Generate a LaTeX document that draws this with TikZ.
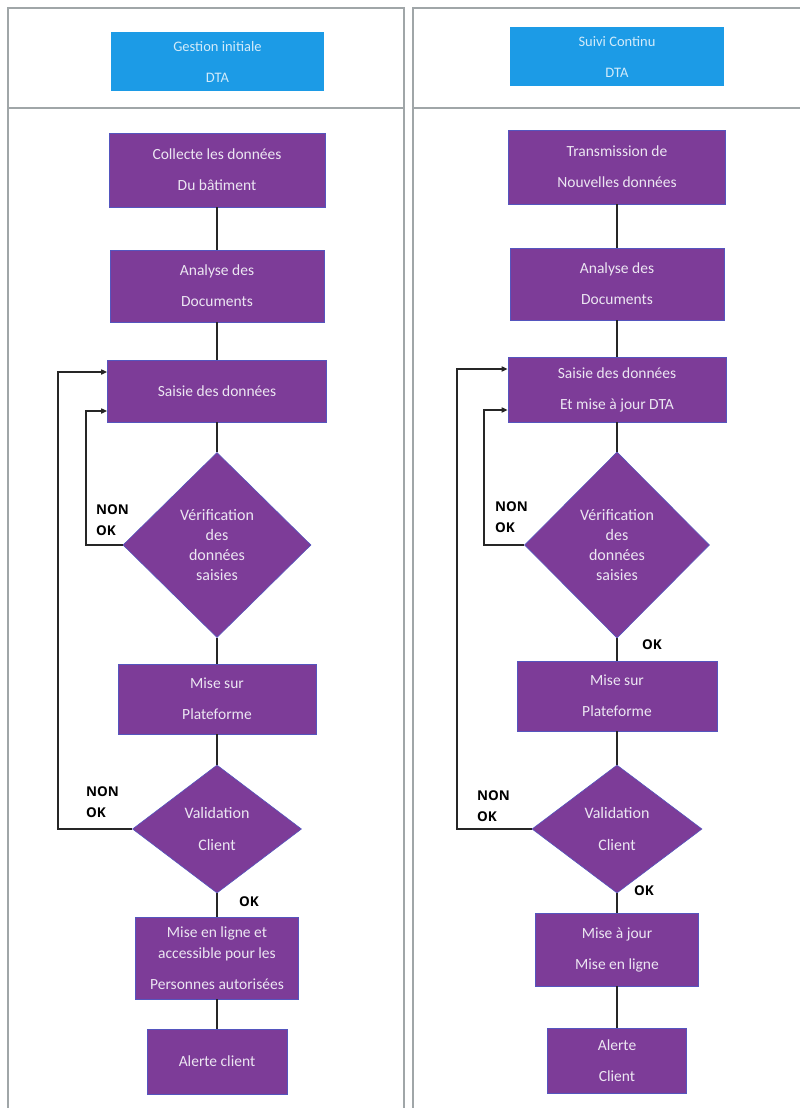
\documentclass[tikz,border=0pt]{standalone}
\usepackage{fontspec}
\setmainfont{Carlito}
\newfontfamily\okfont{Open Sans}
\usetikzlibrary{shapes.geometric,arrows.meta}
\definecolor{purp}{RGB}{125,60,152}
\definecolor{purpedge}{RGB}{85,85,190}
\definecolor{hblue}{RGB}{28,155,230}
\definecolor{boxtxt}{RGB}{236,230,242}
\definecolor{frm}{RGB}{160,166,168}
\begin{document}
\begin{tikzpicture}[x=1pt,y=-1pt,
  stepbox/.style={rectangle, fill=purp, draw=purpedge, line width=0.6pt, text=boxtxt, align=center, inner sep=0pt, font=\fontsize{15.5}{31}\selectfont},
  dec/.style={diamond, fill=purp, draw=purpedge, line width=0.6pt, text=boxtxt, align=center, inner sep=0pt, font=\fontsize{16}{20}\selectfont},
  head/.style={rectangle, fill=hblue, text=white!80!hblue, align=center, inner sep=0pt, font=\fontsize{14.5}{31}\selectfont},
  link/.style={line width=1.6pt, black!85},
  back/.style={link, -{Triangle[length=6pt,width=5pt]}},
  lab/.style={font=\okfont\bfseries\fontsize{13.5}{21}\selectfont, align=left, anchor=west, inner sep=0pt},
  frame/.style={line width=1.1pt, frm}]
\useasboundingbox (0,0) rectangle (800,1108);
\fill[white] (0,0) rectangle (800,1108);

% panel frames
\draw[frame] (8,1108) -- (8,8) -- (404,8) -- (404,1108);
\draw[frame] (8,108) -- (404,108);
\draw[frame] (413,1108) -- (413,8) -- (800,8);
\draw[frame] (413,108) -- (800,108);

% headers
\node[head, minimum width=213pt, minimum height=59pt] (HL) at (217.5,61.5) {Gestion initiale\\DTA};
\node[head, minimum width=214pt, minimum height=59pt] (HR) at (617,56.5) {Suivi Continu\\DTA};

% left column
\node[stepbox, minimum width=216pt, minimum height=74pt] (L1) at (217,170) {Collecte les données\\Du bâtiment};
\node[stepbox, minimum width=214pt, minimum height=72pt] (L2) at (217,286) {Analyse des\\Documents};
\node[stepbox, minimum width=219pt, minimum height=62pt] (L3) at (217,391) {Saisie des données};
\node[dec, minimum width=188pt, minimum height=185pt] (LD1) at (217,545) {Vérification\\des\\données\\saisies};
\node[stepbox, minimum width=198pt, minimum height=70pt] (L4) at (217,699) {Mise sur\\Plateforme};
\node[dec, minimum width=169pt, minimum height=128pt, font=\fontsize{16}{32}\selectfont] (LD2) at (217,829) {Validation\\Client};
\node[stepbox, minimum width=163pt, minimum height=82pt, font=\fontsize{15.5}{21}\selectfont] (L5) at (217,958) {Mise en ligne et\\accessible pour les\\[10pt]Personnes autorisées};
\node[stepbox, minimum width=140pt, minimum height=65pt] (L6) at (217,1061.5) {Alerte client};

\draw[link] (L1) -- (L2);
\draw[link] (L2) -- (L3);
\draw[link] (L3) -- (LD1);
\draw[link] (LD1) -- (L4);
\draw[link] (L4) -- (LD2);
\draw[link] (LD2) -- (L5);
\draw[link] (L5) -- (L6);

\coordinate (lo) at (58,372);
\coordinate (li) at (86,411);
\draw[back] (LD2.west) -| (lo) -- (lo -| L3.west);
\draw[back] (LD1.west) -| (li) -- (li -| L3.west);

\node[lab] (LN1) at (96,520) {NON\\OK};
\node[lab] (LN2) at (86,802) {NON\\OK};
\node[lab] (LOK) at (239,902) {OK};

% right column
\node[stepbox, minimum width=217pt, minimum height=74pt] (R1) at (617,167) {Transmission de\\Nouvelles données};
\node[stepbox, minimum width=214pt, minimum height=72pt] (R2) at (617,284) {Analyse des\\Documents};
\node[stepbox, minimum width=218pt, minimum height=65pt] (R3) at (617,389.5) {Saisie des données\\Et mise à jour DTA};
\node[dec, minimum width=185pt, minimum height=186pt] (RD1) at (617,545) {Vérification\\des\\données\\saisies};
\node[stepbox, minimum width=200pt, minimum height=70pt] (R4) at (617,696) {Mise sur\\Plateforme};
\node[dec, minimum width=170pt, minimum height=128pt, font=\fontsize{16}{32}\selectfont] (RD2) at (617,829) {Validation\\Client};
\node[stepbox, minimum width=163pt, minimum height=73pt] (R5) at (617,949.5) {Mise à jour\\Mise en ligne};
\node[stepbox, minimum width=139pt, minimum height=65pt] (R6) at (617,1060.5) {Alerte\\Client};

\draw[link] (R1) -- (R2);
\draw[link] (R2) -- (R3);
\draw[link] (R3) -- (RD1);
\draw[link] (RD1) -- (R4);
\draw[link] (R4) -- (RD2);
\draw[link] (RD2) -- (R5);
\draw[link] (R5) -- (R6);

\coordinate (ro) at (457,369);
\coordinate (ri) at (484,410);
\draw[back] (RD2.west) -| (ro) -- (ro -| R3.west);
\draw[back] (RD1.west) -| (ri) -- (ri -| R3.west);

\node[lab] (RN1) at (495,517) {NON\\OK};
\node[lab] (RN2) at (477,806) {NON\\OK};
\node[lab] (ROK1) at (642,645) {OK};
\node[lab] (ROK2) at (634,891) {OK};
\end{tikzpicture}
\end{document}
